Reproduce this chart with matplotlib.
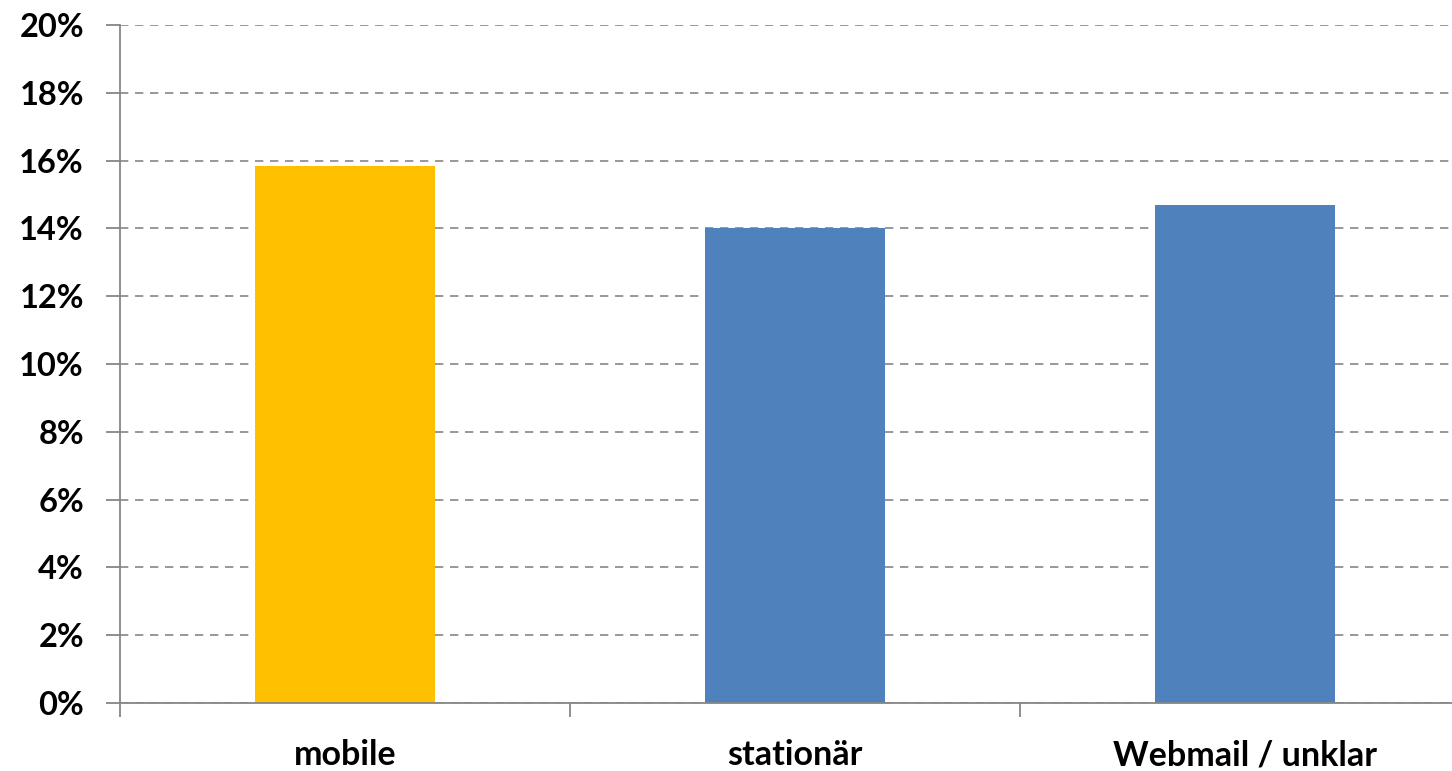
import matplotlib
matplotlib.use("Agg")
import matplotlib.pyplot as plt
from matplotlib.ticker import FuncFormatter, MultipleLocator

# Share per client type (percent)
categories = ["mobile", "stationär", "Webmail / unklar"]
values = [15.84, 14.01, 14.69]
colors = ["#FFC000", "#4F81BD", "#4F81BD"]

plt.rcParams["font.family"] = ["Lato", "DejaVu Sans"]
plt.rcParams["font.weight"] = "bold"

fig = plt.figure(figsize=(14.52, 7.71), dpi=100)
# axes extends slightly beyond the right edge, like the cropped original
ax = fig.add_axes([120 / 1452, 1 - 703 / 771, 1350 / 1452, (703 - 25) / 771])

x = range(len(categories))
ax.bar(x, values, width=0.4, color=colors, zorder=3)

ax.set_xlim(-0.5, 2.5)
ax.set_ylim(0, 20)
ax.yaxis.set_major_locator(MultipleLocator(2))
ax.yaxis.set_major_formatter(FuncFormatter(lambda v, _: f"{v:.0f}%"))
ax.grid(axis="y", color="#868686", linestyle=(0, (5, 4)), linewidth=1.2, zorder=0)

ax.set_xticks(list(x))
ax.set_xticklabels(categories)
ax.set_xticks([-0.5, 0.5, 1.5], minor=True)
ax.tick_params(axis="x", which="major", length=0, pad=26, labelsize=24.5)
ax.tick_params(axis="x", which="minor", length=10, width=1.3, color="#868686", direction="out")
ax.tick_params(axis="y", length=10, width=1.3, color="#868686", labelsize=23.5, pad=16)

for side in ["top", "right"]:
    ax.spines[side].set_visible(False)
for side in ["left", "bottom"]:
    ax.spines[side].set_color("#868686")
    ax.spines[side].set_linewidth(1.3)
    ax.spines[side].set_zorder(4)

fig.savefig("out.png", dpi=100, facecolor="white")
